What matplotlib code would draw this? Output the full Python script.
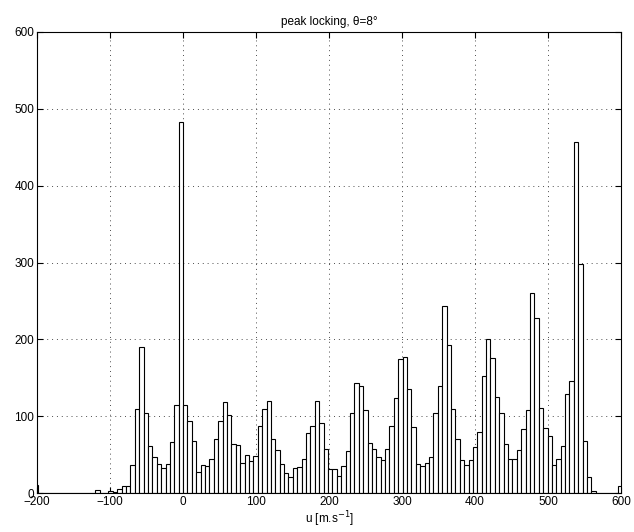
import numpy as np
import matplotlib
matplotlib.use("Agg")
import matplotlib.pyplot as plt

plt.rcParams['font.family'] = ['Liberation Sans', 'DejaVu Sans']

# histogram: 134 bins of equal width starting at -204.4
bin_start = -204.4
bin_width = 6.015

counts = [11, 0, 0, 1, 1, 1, 0, 0, 0, 0, 0, 0, 0, 1, 4, 1, 1,
          3, 2, 6, 9, 10, 37, 109, 190, 104, 62, 47, 38, 33, 38, 67, 115,
          482,
          115, 94, 68, 28, 37, 36, 45, 71, 94, 119, 102, 64, 63,
          39, 50, 42, 48, 88, 109, 120, 71, 56, 38, 26, 21, 33, 34, 44,
          79, 87, 120, 91, 58, 32, 32, 23, 35, 55, 105, 143, 139, 108, 66,
          58, 47, 43, 58, 87, 124, 175, 177, 135, 86, 38, 36, 40, 47, 105,
          139, 244, 193, 110, 70, 43, 37, 43, 60, 80, 153, 201, 176, 125,
          105, 64, 45, 44, 56, 84, 108, 260, 228, 111, 85, 74, 37, 44, 61,
          129, 146, 456, 298, 68, 21, 3, 1, 0, 0, 0, 1, 9]

xticks = [-200, -100, 0, 100, 200, 300, 400, 500, 600]
yticks = [0, 100, 200, 300, 400, 500, 600]

counts = np.array(counts)
left_edges = bin_start + bin_width * np.arange(len(counts))

fig = plt.figure(figsize=(6.34, 5.32), dpi=100)
ax = fig.add_axes([0.0584, 0.0727, 0.9211, 0.8677])

ax.bar(left_edges, counts, width=bin_width, align='edge',
       color='white', edgecolor='black', linewidth=0.8, zorder=2)

ax.set_xlim(-200, 600)
ax.set_ylim(0, 600)
ax.set_xticks(xticks)
ax.set_yticks(yticks)
ax.grid(True, linestyle=(0, (1, 4)), color='0.3', linewidth=0.7, zorder=0)
ax.set_axisbelow(True)
ax.tick_params(direction='in', top=True, right=True, length=4,
               labelsize=8.5, pad=2)
for s in ax.spines.values():
    s.set_linewidth(0.8)

ax.set_title('peak locking, \u03b8=8\u00b0', fontsize=8.5, pad=5)
ax.set_xlabel('u [m.s$^{-1}$]', fontsize=8.5, labelpad=1)

fig.savefig('out.png', dpi=100)
